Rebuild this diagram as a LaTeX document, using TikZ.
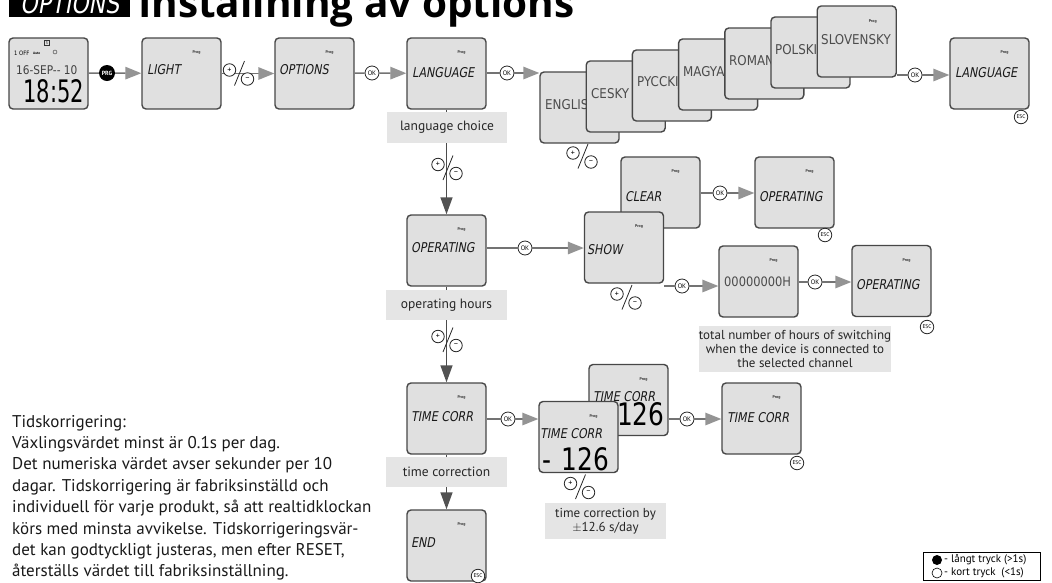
\documentclass[tikz,border=0pt]{standalone}
\usepackage{fontspec}
\setmainfont{PT Sans}
\newfontfamily\titlefont{Open Sans}
\newfontfamily\lcdfont[FakeSlant=0.18,FakeStretch=0.82]{DejaVu Sans}
\newfontfamily\segfont[FakeStretch=0.88]{DejaVu Sans}
\newfontfamily\digfont[FakeStretch=0.8]{DejaVu Sans}
\newfontfamily\clockfont[FakeStretch=0.68]{DejaVu Sans}
\usetikzlibrary{arrows.meta,calc}
\tikzset{
  lcd/.style={rectangle, rounded corners=4pt, draw=black!72, line width=1.4pt, fill=black!12,
    minimum width=79pt, minimum height=71pt, inner sep=0pt},
  disp/.style={anchor=west, inner sep=0pt, font=\lcdfont\fontsize{13.5}{13.5}\selectfont, text=black!90},
  seg/.style={anchor=west, inner sep=0pt, font=\segfont\fontsize{13.5}{13.5}\selectfont, text=black!70},
  prog/.style={inner sep=0pt, font=\bfseries\fontsize{4}{4}\selectfont, text=black!80},
  btn/.style={circle, draw=black!85, fill=white, line width=0.8pt, inner sep=0pt, minimum size=14pt,
    font=\fontsize{6.5}{6.5}\selectfont},
  escb/.style={btn, minimum size=13.5pt, font=\fontsize{5.5}{5.5}\selectfont},
  conn/.style={draw=black!55, line width=1.4pt},
  arr/.style={conn, -{Triangle[length=16pt,width=12.5pt,color=black!42]}},
  varr/.style={draw=black!70, line width=1.4pt, -{Triangle[length=17pt,width=12pt,color=black!68]}},
  glabel/.style={fill=black!10, inner sep=0pt, align=center, text=black!85},
  ptext/.style={anchor=base west, inner sep=0pt, font=\fontsize{17}{17}\selectfont, text=black!90},
  pmc/.style={circle, draw=black!85, fill=white, line width=0.8pt, minimum size=12.5pt, inner sep=0pt,
    font=\fontsize{8}{8}\selectfont},
  pm/.pic={
    \node[pmc] (-p) at (-9,-4.5) {+};
    \node[pmc] (-m) at (9,4.5) {--};
    \draw[black!85, line width=0.8pt] (6,-13.5) -- (-4,11);
  }
}
\begin{document}
\begin{tikzpicture}[x=1pt,y=-1pt]
\useasboundingbox (0,0) rectangle (1052,582);
\clip (0,0) rectangle (1052,582);
% ---------- title
\node[fill=black, minimum width=121pt, minimum height=34pt, inner sep=0pt] (tbox) at (69.5,0) {};
\node[anchor=base west, inner sep=0pt, text=white, font=\lcdfont\fontsize{27}{27}\selectfont] (ttxt) at (20,13.5) {OPTIONS};
\node[anchor=base west, inner sep=0pt, font=\titlefont\bfseries\fontsize{40.5}{40.5}\selectfont] (title) at (138,17) {Inställning av options};
% ---------- top row
\node[lcd] (clock) at (48.5,73.5) {};
\node[draw=black!80, line width=0.5pt, minimum size=5pt, inner sep=0pt, font=\fontsize{4}{4}\selectfont] (cicon) at (47,43) {5};
\node[anchor=west, inner sep=0pt, font=\segfont\fontsize{6}{6}\selectfont] (coff) at (14,53) {1 OFF};
\node[anchor=west, inner sep=0pt, font=\bfseries\fontsize{3.5}{3.5}\selectfont] (cauto) at (33,53) {Auto};
\node[circle, draw=black!80, line width=0.4pt, minimum size=4pt, inner sep=0pt] (cclk) at (55,52) {};
\node[anchor=west, inner sep=0pt, font=\segfont\fontsize{12}{12}\selectfont, text=black!75] (cdate) at (16,70) {16-SEP-- 10};
\node[anchor=west, inner sep=0pt, font=\clockfont\fontsize{31}{31}\selectfont] (ctime) at (23,91.5) {18:52};

\node[lcd] (light) at (181.5,73.5) {};
\node[prog] (lightP) at ($(light)+(15,-21)$) {Prog};
\node[disp] (lightT) at (147,70) {LIGHT};

\node[lcd] (options) at (314.5,73.5) {};
\node[prog] (optionsP) at ($(options)+(15,-21)$) {Prog};
\node[disp] (optionsT) at (279,70) {OPTIONS};

\node[lcd] (lang) at (446.5,73.5) {};
\node[prog] (langP) at ($(lang)+(15,-21)$) {Prog};
\node[disp] (langT) at (412,73) {LANGUAGE};

% language cascade
\node[lcd] (english) at (579.5,107.5) {};
\node[seg] (englishT) at (545,105) {ENGLISH};
\node[lcd] (cesky) at (625.7,96.5) {};
\node[seg] (ceskyT) at (591,94) {CESKY};
\node[lcd] (pycc) at (671.9,85.5) {};
\node[seg] (pyccT) at (637,83) {PYCCKIJ};
\node[lcd] (magyar) at (718.1,74.5) {};
\node[seg] (magyarT) at (683,72) {MAGYAR};
\node[lcd] (romana) at (764.3,63.5) {};
\node[seg] (romanaT) at (729,61) {ROMANA};
\node[lcd] (polski) at (810.5,52.5) {};
\node[seg] (polskiT) at (775,50) {POLSKI};
\node[lcd] (slov) at (856.7,41.5) {};
\node[prog] (slovP) at ($(slov)+(16,-20)$) {Prog};
\node[seg] (slovT) at (821,40) {SLOVENSKY};

\node[lcd] (lang2) at (989.5,73.5) {};
\node[prog] (lang2P) at ($(lang2)+(15,-21)$) {Prog};
\node[disp] (lang2T) at (955,73) {LANGUAGE};

% ---------- operating row
\node[lcd] (oper) at (446.5,250.5) {};
\node[prog] (operP) at ($(oper)+(15,-21)$) {Prog};
\node[disp] (operT) at (411,248) {OPERATING};

\node[lcd] (clear) at (660.5,192.5) {};
\node[prog] (clearP) at ($(clear)+(15,-21)$) {Prog};
\node[disp] (clearT) at (625,197) {CLEAR};

\node[lcd] (show) at (624,247.5) {};
\node[prog] (showP) at ($(show)+(15,-21)$) {Prog};
\node[disp] (showT) at (587,250) {SHOW};

\node[lcd] (oper2) at (794.5,192.5) {};
\node[prog] (oper2P) at ($(oper2)+(15,-21)$) {Prog};
\node[disp] (oper2T) at (759,197) {OPERATING};

\node[lcd] (hours) at (758.5,281.5) {};
\node[prog] (hoursP) at ($(hours)+(15,-21)$) {Prog};
\node[seg, font=\segfont\fontsize{13}{13}\selectfont] (hoursT) at (724,282) {00000000H};

\node[lcd] (oper3) at (891.5,281) {};
\node[prog] (oper3P) at ($(oper3)+(15,-21)$) {Prog};
\node[disp] (oper3T) at (856,285) {OPERATING};

% ---------- time correction row
\node[lcd] (tc) at (446.5,418.5) {};
\node[prog] (tcP) at ($(tc)+(15,-21)$) {Prog};
\node[disp] (tcT) at (411,417) {TIME CORR};

\node[lcd] (tcb) at (628.5,400) {};
\node[prog] (tcbP) at ($(tcb)+(15,-21)$) {Prog};
\node[disp] (tcbT) at (593,397) {TIME CORR};
\node[anchor=west, inner sep=0pt, font=\digfont\fontsize{31}{31}\selectfont] (tcbN) at (617,414.5) {126};

\node[lcd] (tcf) at (578.5,437) {};
\node[prog] (tcfP) at ($(tcf)+(15,-21)$) {Prog};
\node[disp] (tcfT) at (540,434) {TIME CORR};
\node[anchor=west, inner sep=0pt, font=\digfont\fontsize{31}{31}\selectfont] (tcfN) at (542,459) {-\,\,126};

\node[lcd] (tc2) at (761.5,418.5) {};
\node[prog] (tc2P) at ($(tc2)+(15,-21)$) {Prog};
\node[disp] (tc2T) at (727,418) {TIME CORR};

\node[lcd] (endb) at (446.5,545.5) {};
\node[prog] (endP) at ($(endb)+(15,-21)$) {Prog};
\node[disp] (endT) at (411,543) {END};

% ---------- buttons
\node[circle, fill=black, text=white, font=\bfseries\fontsize{6}{6}\selectfont, minimum size=16pt, inner sep=0pt] (prg) at (107,73) {PRG};
\node[btn] (ok1) at (372,73) {OK};
\node[btn] (ok2) at (507,73) {OK};
\node[btn] (ok3) at (915,75) {OK};
\node[btn] (ok4) at (525,248) {OK};
\node[btn] (ok5) at (720,193) {OK};
\node[btn] (ok6) at (682,286) {OK};
\node[btn] (ok7) at (815,282) {OK};
\node[btn] (ok8) at (508,419) {OK};
\node[btn] (ok9) at (687,419) {OK};

% ---------- connectors
\draw[conn] (clock) -- (prg);
\draw[arr] (prg) -- (light);
\draw[arr] (light) -- (options);
\draw[conn] (options) -- (ok1);
\draw[arr] (ok1) -- (lang);
\draw[conn] (lang.east |- ok2) -- (ok2);
\draw[arr] (ok2) -- (english.west |- ok2);
\draw[conn] (slov.east |- ok3) -- (ok3);
\draw[arr] (ok3) -- (lang2.west |- ok3);
\draw[varr] (lang) -- (oper);
\draw[conn] (oper.east |- ok4) -- (ok4);
\draw[arr] (ok4) -- (show.west |- ok4);
\draw[conn] (clear.east |- ok5) -- (ok5);
\draw[arr] (ok5) -- (oper2.west |- ok5);
\draw[conn] (show.east |- ok6) -- (ok6);
\draw[arr] (ok6) -- (hours.west |- ok6);
\draw[conn] (hours.east |- ok7) -- (ok7);
\draw[arr] (ok7) -- (oper3.west |- ok7);
\draw[varr] (oper) -- (tc);
\draw[conn] (tc.east |- ok8) -- (ok8);
\draw[arr] (ok8) -- (tcf.west |- ok8);
\draw[conn] (tcb.east |- ok9) -- (ok9);
\draw[arr] (ok9) -- (tc2.west |- ok9);
\draw[varr] (tc) -- (endb);

% ---------- ESC buttons
\node[escb] (esc1) at (1021,117) {ESC};
\node[escb] (esc2) at (825,235) {ESC};
\node[escb] (esc3) at (927,327) {ESC};
\node[escb] (esc4) at (797,463) {ESC};
\node[escb] (esc5) at (478,576) {ESC};

% ---------- plus/minus
\pic (pm1) at (238.5,74.5) {pm};
\pic (pm2) at (582,157.5) {pm};
\pic (pm3) at (447,169) {pm};
\pic (pm4) at (626,298.5) {pm};
\pic (pm5) at (447,341) {pm};
\pic (pm6) at (579.5,488) {pm};

% ---------- grey labels
\node[glabel, minimum width=120pt, minimum height=31pt, font=\fontsize{13.5}{16}\selectfont] (lchoice) at (447,127.5) {language choice};
\node[glabel, minimum width=121pt, minimum height=30pt, font=\fontsize{13.5}{16}\selectfont] (ohours) at (446.5,305) {operating hours};
\node[glabel, minimum width=121pt, minimum height=30pt, font=\fontsize{13.5}{16}\selectfont] (tcorr) at (446.5,472) {time correction};
\node[glabel, minimum width=164pt, minimum height=46pt, font=\fontsize{13}{14}\selectfont] (total) at (795,349) {total number of hours of switching\\when the device is connected to\\the selected channel};
\node[glabel, minimum width=121pt, minimum height=36pt, font=\fontsize{13}{14}\selectfont] (tcby) at (605.5,521) {time correction by\\$\pm$12.6 s/day};

% ---------- paragraph
\node[ptext] (para1) at (12,427) {Tidskorrigering:};
\node[ptext] (para2) at (12,448.4) {Växlingsvärdet minst är 0.1s per dag.};
\node[ptext] (para3) at (12,469.8) {Det numeriska värdet avser sekunder per 10};
\node[ptext] (para4) at (12,491.2) {dagar. Tidskorrigering är fabriksinställd och};
\node[ptext] (para5) at (12,512.6) {individuell för varje produkt, så att realtidklockan};
\node[ptext] (para6) at (12,534) {körs med minsta avvikelse. Tidskorrigeringsvär-};
\node[ptext] (para7) at (12,555.4) {det kan godtyckligt justeras, men efter RESET,};
\node[ptext] (para8) at (12,576.8) {återställs värdet till fabriksinställning.};

% ---------- legend
\node[draw=black, line width=0.6pt, minimum width=117pt, minimum height=28pt, inner sep=0pt, anchor=north west] (legend) at (923,552) {};
\node[circle, fill=black, minimum size=10pt, inner sep=0pt] (lgf) at (937,560) {};
\node[circle, draw=black, line width=0.6pt, minimum size=10pt, inner sep=0pt] (lgo) at (937,573) {};
\node[anchor=west, inner sep=0pt, font=\fontsize{11}{11}\selectfont] (lgft) at (944,560) {- långt tryck (>1s)};
\node[anchor=west, inner sep=0pt, font=\fontsize{11}{11}\selectfont] (lgot) at (944,573) {- kort tryck\ \ (<1s)};
\end{tikzpicture}
\end{document}
